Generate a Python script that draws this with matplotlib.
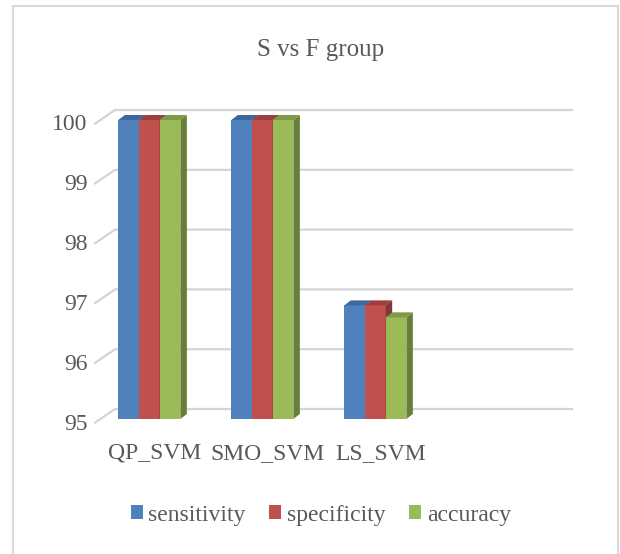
import matplotlib.pyplot as plt
from matplotlib.patches import Polygon, Rectangle
from matplotlib.transforms import ScaledTranslation

# Data
categories = ['QP_SVM', 'SMO_SVM', 'LS_SVM', '']
series_names = ['sensitivity', 'specificity', 'accuracy']
sensitivity = [100, 100, 96.9]
specificity = [100, 100, 96.9]
accuracy = [100, 100, 96.7]
yticks = [95, 96, 97, 98, 99, 100]

colors = ['#4f81bd', '#c0504d', '#9bbb59']
tops = ['#3d689c', '#9c3f3d', '#7e9a47']
sides = ['#33567f', '#833533', '#66803a']

plt.rcParams['font.family'] = ['Liberation Serif', 'DejaVu Serif']
text_color = '#595959'

fig = plt.figure(figsize=(6.2, 5.54), dpi=100)
ax = fig.add_axes([98.5 / 620, 135 / 554, 452 / 620, 299 / 554])
ax.set_xlim(-0.5, 3.5)
ax.set_ylim(95, 100)

# fake 3d depth
dx = 0.0575
dy = 0.0836
bw = 0.183
offsets = [-0.233, -0.05, 0.133]

# back gridlines with little diagonal stubs on the left wall
for v in yticks:
    ax.plot([-0.53, -0.354, 3.69], [v - 0.06, v + 0.167, v + 0.167],
            color='#d4d4d4', lw=1.6, clip_on=False, zorder=1,
            solid_joinstyle='miter')

z = 2
for i in range(3):  # categories with data
    for j, vals in enumerate([sensitivity, specificity, accuracy]):
        v = vals[i]
        xc = i + offsets[j]
        x0 = xc - bw / 2
        x1 = xc + bw / 2
        ax.bar(xc, v - 95, bottom=95, width=bw, color=colors[j],
               label=series_names[j] if i == 0 else None, zorder=z, clip_on=False)
        top = Polygon([(x0, v), (x0 + dx, v + dy), (x1 + dx, v + dy), (x1, v)],
                      closed=True, facecolor=tops[j], edgecolor='none',
                      zorder=z + 0.1, clip_on=False)
        side = Polygon([(x1, 95), (x1 + dx, 95 + dy), (x1 + dx, v + dy), (x1, v)],
                       closed=True, facecolor=sides[j], edgecolor='none',
                       zorder=z + 0.1, clip_on=False)
        ax.add_patch(top)
        ax.add_patch(side)
        z += 1

for s in ax.spines.values():
    s.set_visible(False)
ax.set_yticks(yticks)
ax.set_yticklabels([str(t) for t in yticks])
ax.set_xticks(range(len(categories)))
ax.set_xticklabels(categories)
ax.tick_params(axis='y', length=0, pad=8, labelsize=17, labelcolor=text_color)
ax.tick_params(axis='x', length=0, pad=17, labelsize=17, labelcolor=text_color)
shift = ScaledTranslation(0, -5 / 100, fig.dpi_scale_trans)
for lab in ax.get_yticklabels():
    lab.set_verticalalignment('center')
    lab.set_transform(lab.get_transform() + shift)

fig.text(321 / 620, 1 - 50 / 554, 'S vs F group', ha='center', va='center',
         fontsize=18, color=text_color)

fig.legend(loc='center', bbox_to_anchor=(321 / 620, 1 - 515 / 554), ncol=3,
           frameon=False, fontsize=17, handlelength=0.5, handleheight=0.5,
           handletextpad=0.25, columnspacing=1.0, labelcolor=text_color)

# chart border
fig.patches.append(Rectangle((13 / 620, -0.05), 605 / 620, 1.05 - 6 / 554,
                             transform=fig.transFigure, fill=False,
                             edgecolor='#d9d9d9', lw=1.5))

fig.savefig('out.png', dpi=100)
